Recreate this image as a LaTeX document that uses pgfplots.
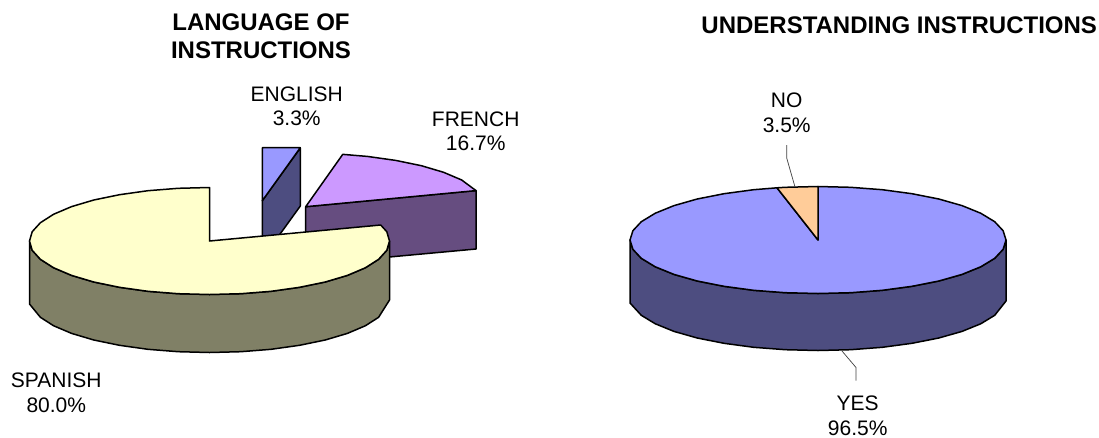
\documentclass[border=0pt]{standalone}
\usepackage{fontspec}
\setmainfont{Liberation Sans}
\usepackage{pgfplots}
\pgfplotsset{compat=1.18}
\definecolor{bluetop}{HTML}{9999FF}
\definecolor{bluewall}{HTML}{4D4D80}
\definecolor{violettop}{HTML}{CC99FF}
\definecolor{violetwall}{HTML}{664D80}
\definecolor{creamtop}{HTML}{FFFFCC}
\definecolor{creamwall}{HTML}{808066}
\definecolor{peach}{HTML}{FFCC99}
\begin{document}
\begin{tikzpicture}[
  lab/.style={font=\fontsize{21}{24.5}\selectfont, align=center, text=black, inner sep=0pt},
  ttl/.style={font=\fontsize{24}{27.7}\selectfont\bfseries, align=center, text=black, inner sep=0pt}]
\begin{axis}[
  at={(0pt,0pt)}, anchor=south west,
  scale only axis, width=1099pt, height=437pt,
  xmin=0, xmax=1099, ymin=0, ymax=437, y dir=reverse,
  hide axis, clip=false, no marks,
  every axis plot/.append style={line width=1.5pt, line join=round, draw=black}]

% Left pie: French slice (16.7%)
\addplot[fill=violetwall] coordinates {(305.7,206.7) (476,190.6) (476,249) (305.7,264.7)} --cycle;
\addplot[fill=violettop] coordinates {(305.7,206.7) (342.75,154.35) (367.3,156.4) (395.7,160.4)
  (421.4,165.7) (443.6,172.3) (461.6,179.95) (476,190.6)} --cycle;

% Left pie: English slice (3.3%)
\addplot[fill=bluewall] coordinates {(262.3,200.7) (300.3,148) (300.3,206) (262.3,258.7)} --cycle;
\addplot[fill=bluetop] coordinates {(262.3,200.7) (262.3,147.7) (300.3,147.7)} --cycle;

% Left pie: Spanish slice (80.0%)
\addplot[fill=creamwall] coordinates {
  (389.5,241) (386.8,250.3) (378.6,259.3) (365.4,267.75) (347.4,275.4) (325.2,282) (299.5,287.3)
  (271.1,291.3) (240.8,293.7) (209.5,294.5) (178.2,293.7) (147.9,291.3) (119.5,287.3) (93.8,282)
  (71.6,275.4) (53.6,267.75) (40.4,259.3) (32.2,250.3) (29.5,241)
  (29.5,304) (40.4,317.3) (53.6,325.75) (71.6,333.4) (93.8,340) (119.5,345.3) (147.9,349.3)
  (178.2,351.7) (209.5,352.5) (240.8,351.7) (271.1,349.3) (299.5,345.3) (325.2,340) (347.4,333.4)
  (365.4,325.75) (378.6,317.3) (389.5,300)} --cycle;
\addplot[fill=creamtop] coordinates {(209.5,241) (380.7,225) (386.8,231.7) (389.5,241) (386.8,250.3)
  (378.6,259.3) (365.4,267.75) (347.4,275.4) (325.2,282) (299.5,287.3) (271.1,291.3) (240.8,293.7)
  (209.5,294.5) (178.2,293.7) (147.9,291.3) (119.5,287.3) (93.8,282) (71.6,275.4) (53.6,267.75)
  (40.4,259.3) (32.2,250.3) (29.5,241) (32.2,231.7) (40.4,222.7) (53.6,214.25) (71.6,206.6) (93.8,200)
  (119.5,194.7) (147.9,190.7) (178.2,188.3) (209.5,187.5)} --cycle;

% Right pie: side wall of the Yes slice
\addplot[fill=bluewall] coordinates {
  (1006,240) (1003.1,249.3) (994.7,258.3) (980.8,266.75) (962,274.4) (938.8,281) (912,286.3)
  (882.3,290.3) (850.6,292.7) (818,293.5) (785.4,292.7) (753.7,290.3) (724,286.3) (697.2,281)
  (674,274.4) (655.2,266.75) (641.3,258.3) (632.9,249.3) (630,240)
  (630,303) (641.3,315.3) (655.2,323.75) (674,331.4) (697.2,338) (724,343.3) (753.7,347.3)
  (785.4,349.7) (818,350.5) (850.6,349.7) (882.3,347.3) (912,343.3) (938.8,338) (962,331.4)
  (980.8,323.75) (994.7,315.3) (1006,301)} --cycle;

% Right pie: Yes slice (96.5%)
\addplot[fill=bluetop] coordinates {(818,240) (818,186.5) (850.6,187.3) (882.3,189.7) (912,193.7)
  (938.8,199) (962,205.6) (980.8,213.25) (994.7,221.7) (1003.1,230.7) (1006,240) (1003.1,249.3)
  (994.7,258.3) (980.8,266.75) (962,274.4) (938.8,281) (912,286.3) (882.3,290.3) (850.6,292.7)
  (818,293.5) (785.4,292.7) (753.7,290.3) (724,286.3) (697.2,281) (674,274.4) (655.2,266.75)
  (641.3,258.3) (632.9,249.3) (630,240) (632.9,230.7) (641.3,221.7) (655.2,213.25) (674,205.6)
  (697.2,199) (724,193.7) (753.7,189.7) (777,187.8)} --cycle;

% Right pie: No slice (3.5%)
\addplot[fill=peach] coordinates {(818,240) (777,187.8) (785.4,187.3) (818,186.5)} --cycle;

% Leader lines
\addplot[line width=0.7pt, draw=black!75] coordinates {(786.7,145) (786.7,158) (795,187)};
\addplot[line width=0.7pt, draw=black!75] coordinates {(842,351) (856,367.5) (856,380.7)};

% Titles
\node[ttl] at (axis cs:261,36.5) {LANGUAGE OF\\INSTRUCTIONS};
\node[ttl] at (axis cs:899.2,25.7) {UNDERSTANDING INSTRUCTIONS};

% Slice labels
\node[lab] at (axis cs:296.7,106.5) {ENGLISH\\3.3\%};
\node[lab] at (axis cs:475.7,131.5) {FRENCH\\16.7\%};
\node[lab] at (axis cs:786.7,113) {NO\\3.5\%};
\node[lab] at (axis cs:56.3,392.7) {SPANISH\\80.0\%};
\node[lab] at (axis cs:857.7,416) {YES\\96.5\%};
\end{axis}
\pgfresetboundingbox
\useasboundingbox (0pt,0pt) rectangle (1099pt,437pt);
\end{tikzpicture}
\end{document}
